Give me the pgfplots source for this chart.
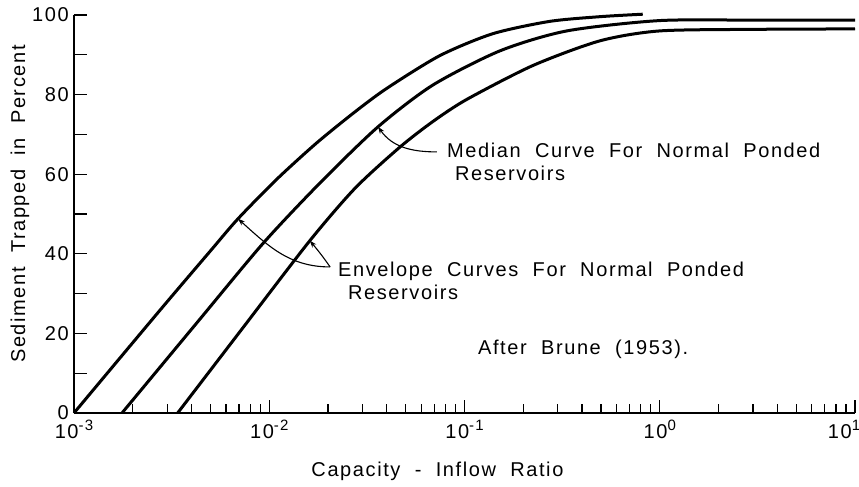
\documentclass[border=0pt]{standalone}
\usepackage{pgfplots}
\pgfplotsset{compat=1.18}
\usepackage{fontspec}
\setmainfont{Liberation Sans}[LetterSpace=8,WordSpace=2]
\usetikzlibrary{arrows.meta}
\newcommand{\ex}[1]{10\raisebox{8pt}{\fontsize{15}{15}\selectfont #1}}
\begin{document}
\fontsize{20}{24}\selectfont
\begin{tikzpicture}
\begin{axis}[
  width=781pt, height=398pt, scale only axis,
  xmode=log, xmin=1e-3, xmax=10, ymin=0, ymax=100,
  axis lines=left, axis line style={-, line width=1.6pt},
  clip=false,
  xtick={1e-3,1e-2,1e-1,1,10},
  xticklabels={\ex{-3},\ex{-2},\ex{-1},\ex{0},\ex{1}\hspace*{22pt}},
  ytick={0,10,...,100},
  yticklabels={0,,20,,40,,60,,80,,100},
  major tick length=13pt, minor tick length=9pt,
  tick style={line width=1.3pt, black},
  tick align=inside,
  xticklabel style={inner sep=0pt, anchor=north, yshift=-7pt},
  yticklabel style={inner sep=0pt, xshift=-5pt},
  xlabel={Capacity - Inflow Ratio},
  ylabel={Sediment Trapped in Percent},
  x label style={at={(axis description cs:0.4654,-0.1608)}, anchor=base},
  y label style={at={(axis description cs:-0.0627,0.525)}, anchor=base},
  every axis plot/.append style={line width=3pt, black},
]
% upper envelope
\addplot[smooth, tension=0.45] coordinates {
(0.001,0) (0.002754,25.8) (0.005012,40.8) (0.006918,48.8) (0.010965,58.8)
(0.017539,67.9) (0.027542,75.7) (0.040087,81.6) (0.074817,89.8)
(0.139637,95.3) (0.273527,98.4) (0.501187,99.6) (0.818465,100.2)};
% median
\addplot[smooth, tension=0.45] coordinates {
(0.001762,0) (0.004266,22.7) (0.009290,42.6) (0.018197,57.8) (0.036058,71.9)
(0.068865,82.4) (0.152055,91.0) (0.334195,96.0) (1,98.6) (3.1623,98.7) (10,98.7)};
% lower envelope
\addplot[smooth, tension=0.45] coordinates {
(0.003396,0) (0.007328,21.4) (0.016144,43.3) (0.027542,56.5) (0.046666,66.8)
(0.069183,73.3) (0.102802,78.8) (0.223872,87.3) (0.493174,93.5) (1,96.0)
(3.1623,96.4) (10,96.5)};

\node[anchor=base west, inner sep=0] at (axis cs:0.0813,64.3) {Median Curve For Normal Ponded};
\node[anchor=base west, inner sep=0] at (axis cs:0.0893,58.5) {Reservoirs};
\node[anchor=base west, inner sep=0] at (axis cs:0.0225,34.2) {Envelope Curves For Normal Ponded};
\node[anchor=base west, inner sep=0] at (axis cs:0.0253,28.4) {Reservoirs};
\node[anchor=base west, inner sep=0] at (axis cs:0.1172,14.6) {After Brune (1953).};

\draw[line width=1.1pt, -{Stealth[length=7pt,width=5pt]}] (axis cs:0.0723,65.6) to[out=180,in=-55] (axis cs:0.0361,71.9);
\draw[line width=1.1pt, -{Stealth[length=7pt,width=5pt]}] (axis cs:0.0205,36.7) to[out=180,in=-42] (axis cs:0.00692,48.8);
\draw[line width=1.1pt, -{Stealth[length=7pt,width=5pt]}] (axis cs:0.0205,36.7) to[out=125,in=-50] (axis cs:0.01614,43.3);
\end{axis}
\pgfresetboundingbox
\path ([shift={(-74pt,-74pt)}]current axis.south west) rectangle ([shift={(4pt,15pt)}]current axis.north east);
\end{tikzpicture}
\end{document}
